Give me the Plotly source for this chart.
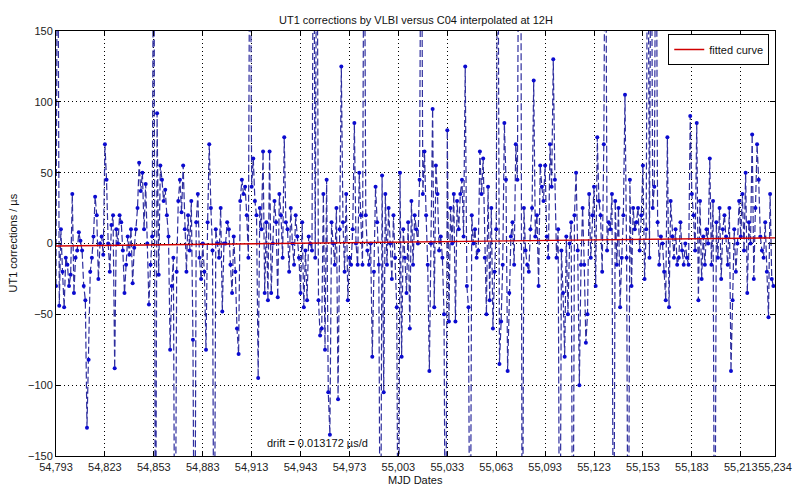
import plotly.graph_objects as go

# ---- data (MJD start, daily values in µs; ±300 = off-scale spikes) ----
mjd_start = 54793
ut1_rows = [
    [-30, 300, -44, 10, -20, -45, -10, -15, -30, -22],      # 54793
    [35, -35, -10, -5, 8, 2, -5, -30, -40, -130],           # 54803
    [-82, -20, -10, 5, 33, 20, -25, 0, 5, -8],              # 54813
    [70, 45, 0, -20, 13, 20, -88, 10, 0, 20],               # 54823
    [15, -5, -35, -15, 5, -8, 10, -28, -3, 10],             # 54833
    [25, 57, 37, 50, 10, 42, 0, -43, -15, 5],               # 54843
    [300, -300, 92, -22, 55, 45, 30, 38, 20, 5],            # 54853
    [-75, -30, -10, -300, -20, 30, 45, 22, 55, 10],         # 54863
    [-20, 20, -5, 30, -68, -300, 15, 35, -10, -25],         # 54873
    [0, -20, -75, 15, 70, 25, -5, -300, 10, 0],             # 54883
    [-10, 25, -48, 0, 0, 15, 10, -15, -35, 5],              # 54893
    [-20, -60, -78, 30, 45, 35, 40, 20, -10, 300],          # 54903
    [40, 60, 30, 20, -95, 25, 10, 65, -35, 15],             # 54913
    [-40, 65, -35, 0, 30, 15, -38, 35, 20, -10],            # 54923
    [75, 15, 10, -20, 25, 0, -15, 20, 5, -10],              # 54933
    [-35, 15, -45, -5, -40, 5, 0, -5, 300, -10],            # 54943
    [300, -40, -65, -60, 35, -75, 45, -105, -135, 15],      # 54953
    [0, -15, 25, -110, 10, 125, 15, -20, 35, -40],          # 54963
    [-10, -15, 10, 85, 0, -15, 50, 20, -15, 300],           # 54973
    [20, -5, -15, 0, -80, -20, 40, 15, -15, -300],          # 54983
    [48, -105, 35, -15, 25, 0, -25, 20, -10, -45],          # 54993
    [-300, 50, -80, 10, -10, -35, 15, -60, 30, -15],        # 55003
    [20, 10, 0, 45, 300, 35, 65, 20, -15, -90],             # 55013
    [0, 95, -45, 55, 35, -5, 5, -10, -50, -300],            # 55023
    [80, -55, 25, 0, 35, -55, 30, 10, 35, 45],              # 55033
    [5, 125, -30, -45, -300, 20, 0, 10, -10, -5],           # 55043
    [65, 35, 60, -10, -50, 40, -40, 25, -60, -20],          # 55053
    [10, 300, -85, -55, -15, 85, 45, -90, -35, 5],          # 55063
    [15, -15, 70, 45, 300, 300, -300, 25, -5, -15],         # 55073
    [-20, 10, 25, 115, 5, 20, -30, 55, 40, 30],             # 55083
    [55, 5, -10, 70, 40, 130, 45, -10, 10, -300],           # 55093
    [-5, -35, -80, 5, -50, 0, 15, -300, 20, 50],            # 55103
    [-5, -100, -15, 25, -15, -70, -50, 35, -10, 20],        # 55113
    [40, -30, 75, 30, 20, -20, 70, 300, -5, 15],            # 55123
    [10, 35, -300, 30, -15, 25, -45, -10, 20, 105],         # 55133
    [-10, -300, 45, -30, 25, 10, 15, 25, -5, 20],           # 55143
    [55, -25, 10, 300, -10, 300, 25, 40, 300, 15],          # 55153
    [-15, 5, 0, -20, -40, 75, -45, 30, 5, -10],             # 55163
    [10, -15, -10, 15, -5, -15, 0, -10, -15, 90],           # 55173
    [35, 20, -5, 85, -40, 30, -25, 5, -15, 10],             # 55183
    [0, 60, -15, 30, -300, 15, -10, 25, -25, 10],           # 55193
    [20, 5, -15, 25, -90, -40, 10, -20, 0, 30],             # 55203
    [5, 35, -5, 50, -35, 15, 0, 77, -25, 25],               # 55213
    [70, 45, 5, -5, -10, 15, -20, -52, 35, -25],            # 55223
    [-30],                                                  # 55233
]
fit_mjd = [54793, 55234]
fit_val = [-1.8, 4.0]
x_ticks = [54793, 54823, 54853, 54883, 54913, 54943, 54973, 55003, 55033,
           55063, 55093, 55123, 55153, 55183, 55213, 55234]
y_ticks = [-150, -100, -50, 0, 50, 100, 150]

ut1_val = [v for row in ut1_rows for v in row]
ut1_mjd = [mjd_start + i for i in range(len(ut1_val))]

FONT = "Liberation Sans, Arial, sans-serif"

fig = go.Figure()
fig.add_trace(go.Scatter(
    x=ut1_mjd, y=ut1_val, mode="lines+markers", showlegend=False,
    line=dict(color="#2e2e9e", width=1.2, dash="7px,3px"),
    marker=dict(color="#0a0ad0", size=4, symbol="circle"),
))
fig.add_trace(go.Scatter(
    x=fit_mjd, y=fit_val, mode="lines", name="fitted curve",
    line=dict(color="#d00000", width=1.4),
))

axis_common = dict(
    showline=True, linecolor="#000", linewidth=1, mirror="ticks",
    ticks="inside", ticklen=5, tickcolor="#000",
    showgrid=True, gridcolor="#000", gridwidth=1, griddash="1px,3px",
    zeroline=False, tickfont=dict(family=FONT, size=11, color="#222"),
)

fig.update_layout(
    width=804, height=486,
    margin=dict(l=56, r=20, t=31, b=30),
    paper_bgcolor="white", plot_bgcolor="white",
    font=dict(family=FONT, size=11, color="#222"),
    xaxis=dict(range=[x_ticks[0], x_ticks[-1]], tickvals=x_ticks,
               ticktext=[f"{t:,}" for t in x_ticks], tickangle=0,
               ticklabelstandoff=1, **axis_common),
    yaxis=dict(range=[y_ticks[0], y_ticks[-1]], tickvals=y_ticks, **axis_common),
    legend=dict(x=0.992, y=0.993, xanchor="right", yanchor="top",
                bgcolor="white", bordercolor="#000", borderwidth=1,
                itemwidth=30, font=dict(family=FONT, size=11, color="#111"),
                tracegroupgap=0),
    showlegend=True,
    annotations=[
        dict(text="UT1 corrections by VLBI versus C04 interpolated at 12H",
             xref="paper", yref="paper", x=0.5, y=1, yshift=11,
             xanchor="center", yanchor="middle", showarrow=False,
             font=dict(family=FONT, size=11, color="#111")),
        dict(text="MJD Dates", xref="paper", yref="paper", x=0.5, y=0,
             yshift=-24, xanchor="center", yanchor="middle", showarrow=False,
             font=dict(family=FONT, size=11, color="#111")),
        dict(text="UT1 corrections / µs", xref="paper", yref="paper", x=0,
             y=0.5, xshift=-44, textangle=-90, xanchor="center",
             yanchor="middle", showarrow=False,
             font=dict(family=FONT, size=11, color="#111")),
        dict(text="drift = 0.013172 µs/d", xref="x", yref="y",
             x=54921, y=-141, xanchor="left", yanchor="middle",
             showarrow=False, bgcolor="rgba(0,0,0,0)",
             font=dict(family=FONT, size=11, color="#111")),
    ],
)

fig.write_html("out.html", config={"displayModeBar": False},
               post_script="document.body.style.margin='0px';")
